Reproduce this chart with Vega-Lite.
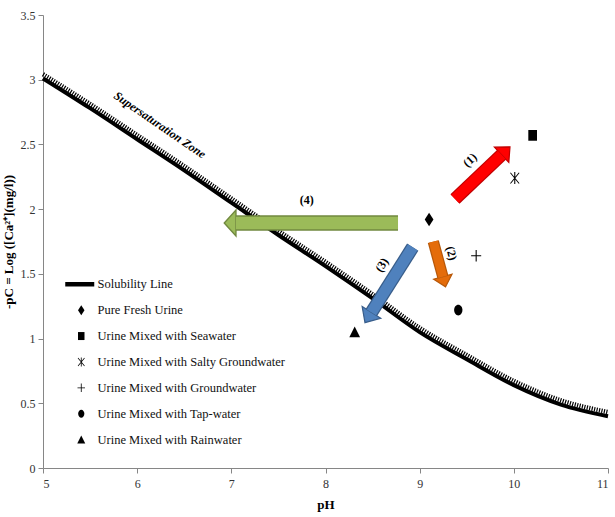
{
  "$schema": "https://vega.github.io/schema/vega-lite/v6.json",
  "width": 565,
  "height": 453,
  "autosize": {"type": "none"},
  "padding": {"left": 43, "top": 15, "right": 7, "bottom": 49},
  "background": "white",
  "config": {
    "view": {"stroke": null},
    "font": "Times New Roman, Liberation Serif, serif",
    "axis": {
      "grid": false,
      "domainColor": "#868686",
      "tickColor": "#868686",
      "tickSize": 5,
      "labelFont": "Times New Roman, Liberation Serif, serif",
      "labelFontSize": 12,
      "labelColor": "#333333",
      "titleFont": "Times New Roman, Liberation Serif, serif",
      "titleFontSize": 13,
      "titleFontWeight": "bold",
      "titleColor": "#000000"
    }
  },
  "datasets": {
    "line": [
      {"pH": 5.0, "pC": 3.01},
      {"pH": 5.5, "pC": 2.78},
      {"pH": 6.0, "pC": 2.54},
      {"pH": 6.5, "pC": 2.30},
      {"pH": 7.0, "pC": 2.05},
      {"pH": 7.5, "pC": 1.80},
      {"pH": 8.0, "pC": 1.56},
      {"pH": 8.5, "pC": 1.31},
      {"pH": 9.0, "pC": 1.05},
      {"pH": 9.5, "pC": 0.84},
      {"pH": 10.0, "pC": 0.64},
      {"pH": 10.5, "pC": 0.49},
      {"pH": 11.0, "pC": 0.40}
    ],
    "points": [
      {"series": "Pure Fresh Urine", "pH": 9.1, "pC": 1.92},
      {"series": "Urine Mixed with Seawater", "pH": 10.2, "pC": 2.57},
      {"series": "Urine Mixed with Salty Groundwater", "pH": 10.01, "pC": 2.24},
      {"series": "Urine Mixed with Groundwater", "pH": 9.6, "pC": 1.64},
      {"series": "Urine Mixed with Tap-water", "pH": 9.41, "pC": 1.22},
      {"series": "Urine Mixed with Rainwater", "pH": 8.31, "pC": 1.05}
    ],
    "arrows": [
      {"id": "1", "pH": 9.375, "pC": 2.079, "pH2": 9.870, "pC2": 2.420},
      {"id": "2", "pH": 9.145, "pC": 1.749, "pH2": 9.246, "pC2": 1.478},
      {"id": "3", "pH": 8.926, "pC": 1.706, "pH2": 8.488, "pC2": 1.202},
      {"id": "4", "pH": 8.770, "pC": 1.893, "pH2": 7.049, "pC2": 1.893}
    ],
    "labels": [
      {"text": "(1)", "pH": 9.534, "pC": 2.380},
      {"text": "(2)", "pH": 9.340, "pC": 1.659},
      {"text": "(3)", "pH": 8.597, "pC": 1.569},
      {"text": "(4)", "pH": 7.800, "pC": 2.071},
      {"text": "Supersaturation Zone", "pH": 6.242, "pC": 2.651}
    ]
  },
  "encoding": {
    "x": {
      "field": "pH",
      "type": "quantitative",
      "scale": {"domain": [5, 11], "nice": false, "zero": false},
      "axis": {"title": "pH", "values": [5, 6, 7, 8, 9, 10, 11], "format": "d", "labelPadding": 5, "titlePadding": 9}
    },
    "y": {
      "field": "pC",
      "type": "quantitative",
      "scale": {"domain": [0, 3.5], "nice": false},
      "axis": {"title": "-pC = Log  ([Ca²⁺](mg/l))", "values": [0, 0.5, 1, 1.5, 2, 2.5, 3, 3.5], "format": "~g", "labelPadding": 3, "titlePadding": 5}
    }
  },
  "layer": [
    {
      "data": {"name": "line"},
      "mark": {"type": "line", "interpolate": "monotone", "color": "#000000", "strokeWidth": 4.5, "strokeDash": [1.2, 1.3], "yOffset": -4.2}
    },
    {
      "data": {"name": "line"},
      "mark": {"type": "line", "interpolate": "monotone", "color": "#000000", "strokeWidth": 4}
    },
    {
      "data": {"name": "arrows"},
      "transform": [{"filter": "datum.id == '4'"}],
      "encoding": {"x2": {"field": "pH2"}, "y2": {"field": "pC2"}},
      "layer": [
        {"mark": {"type": "rule", "color": "#71893F", "strokeWidth": 15.4}},
        {"mark": {"type": "point", "shape": "M0,-0.9L-1,0L1,0Z", "filled": true, "fill": "#9BBB59", "stroke": "#71893F", "strokeWidth": 1.4, "size": 676, "angle": 270, "opacity": 1},
         "encoding": {"x": {"field": "pH2", "type": "quantitative"}, "y": {"field": "pC2", "type": "quantitative"}, "x2": null, "y2": null}},
        {"mark": {"type": "rule", "color": "#9BBB59", "strokeWidth": 12.6}}
      ]
    },
    {
      "data": {"name": "arrows"},
      "transform": [{"filter": "datum.id == '1'"}],
      "encoding": {"x2": {"field": "pH2"}, "y2": {"field": "pC2"}},
      "layer": [
        {"mark": {"type": "rule", "color": "#C00000", "strokeWidth": 13.2}},
        {"mark": {"type": "point", "shape": "M0,-1.1L-1,0L1,0Z", "filled": true, "fill": "#FF0000", "stroke": "#C00000", "strokeWidth": 1.2, "size": 441, "angle": 46.6, "opacity": 1},
         "encoding": {"x": {"field": "pH2", "type": "quantitative"}, "y": {"field": "pC2", "type": "quantitative"}, "x2": null, "y2": null}},
        {"mark": {"type": "rule", "color": "#FF0000", "strokeWidth": 10.8}}
      ]
    },
    {
      "data": {"name": "arrows"},
      "transform": [{"filter": "datum.id == '2'"}],
      "encoding": {"x2": {"field": "pH2"}, "y2": {"field": "pC2"}},
      "layer": [
        {"mark": {"type": "rule", "color": "#B65708", "strokeWidth": 11.4}},
        {"mark": {"type": "point", "shape": "M0,-1.1L-1,0L1,0Z", "filled": true, "fill": "#E46C0A", "stroke": "#B65708", "strokeWidth": 1.2, "size": 361, "angle": 164.8, "opacity": 1},
         "encoding": {"x": {"field": "pH2", "type": "quantitative"}, "y": {"field": "pC2", "type": "quantitative"}, "x2": null, "y2": null}},
        {"mark": {"type": "rule", "color": "#E46C0A", "strokeWidth": 9}}
      ]
    },
    {
      "data": {"name": "arrows"},
      "transform": [{"filter": "datum.id == '3'"}],
      "encoding": {"x2": {"field": "pH2"}, "y2": {"field": "pC2"}},
      "layer": [
        {"mark": {"type": "rule", "color": "#385D8A", "strokeWidth": 13.4}},
        {"mark": {"type": "point", "shape": "M0,-1.1L-1,0L1,0Z", "filled": true, "fill": "#4F81BD", "stroke": "#385D8A", "strokeWidth": 1.2, "size": 484, "angle": 212.3, "opacity": 1},
         "encoding": {"x": {"field": "pH2", "type": "quantitative"}, "y": {"field": "pC2", "type": "quantitative"}, "x2": null, "y2": null}},
        {"mark": {"type": "rule", "color": "#4F81BD", "strokeWidth": 11}}
      ]
    },
    {
      "data": {"name": "points"},
      "mark": {"type": "point", "filled": true, "color": "#000000", "strokeWidth": 0, "size": 180, "opacity": 1},
      "encoding": {
        "shape": {
          "field": "series",
          "type": "nominal",
          "scale": {
            "domain": ["Solubility Line", "Pure Fresh Urine", "Urine Mixed with Seawater", "Urine Mixed with Salty Groundwater", "Urine Mixed with Groundwater", "Urine Mixed with Tap-water", "Urine Mixed with Rainwater"],
            "range": [
              "M-3.2,-0.45H2.6V0.45H-3.2Z",
              "M0,-1L0.65,0L0,1L-0.65,0Z",
              "M-0.65,-0.8H0.65V0.8H-0.65Z",
              "M-0.705,-0.756L0.595,0.844L0.705,0.756L-0.595,-0.844ZM-0.705,0.756L-0.595,0.844L0.705,-0.756L0.595,-0.844ZM-0.08,-0.9V0.9H0.08V-0.9Z",
              "M-0.75,-0.08H-0.08V-0.85H0.08V-0.08H0.75V0.08H0.08V0.85H-0.08V0.08H-0.75Z",
              "M0.62,0A0.62,0.8,0,1,1,-0.62,0A0.62,0.8,0,1,1,0.62,0Z",
              "M0,-0.85L0.8,0.75H-0.8Z"
            ]
          },
          "legend": {
            "title": null,
            "orient": "none",
            "legendX": 32,
            "legendY": 263,
            "padding": 0,
            "symbolSize": 100,
            "symbolFillColor": "#000000",
            "symbolStrokeWidth": 0,
            "labelFont": "Times New Roman, Liberation Serif, serif",
            "labelFontSize": 12.5,
            "labelColor": "#111111",
            "labelOffset": 10,
            "labelLimit": 400,
            "rowPadding": 12.9
          }
        }
      }
    },
    {
      "data": {"name": "labels"},
      "transform": [{"filter": "datum.text == '(1)'"}],
      "mark": {"type": "text", "font": "Times New Roman, Liberation Serif, serif", "fontSize": 12, "fontWeight": "bold", "angle": -43, "align": "center", "baseline": "middle", "color": "#000000"},
      "encoding": {"text": {"field": "text"}}
    },
    {
      "data": {"name": "labels"},
      "transform": [{"filter": "datum.text == '(2)'"}],
      "mark": {"type": "text", "font": "Times New Roman, Liberation Serif, serif", "fontSize": 12, "fontWeight": "bold", "angle": 75, "align": "center", "baseline": "middle", "color": "#000000"},
      "encoding": {"text": {"field": "text"}}
    },
    {
      "data": {"name": "labels"},
      "transform": [{"filter": "datum.text == '(3)'"}],
      "mark": {"type": "text", "font": "Times New Roman, Liberation Serif, serif", "fontSize": 12, "fontWeight": "bold", "angle": -58, "align": "center", "baseline": "middle", "color": "#000000"},
      "encoding": {"text": {"field": "text"}}
    },
    {
      "data": {"name": "labels"},
      "transform": [{"filter": "datum.text == '(4)'"}],
      "mark": {"type": "text", "font": "Times New Roman, Liberation Serif, serif", "fontSize": 12, "fontWeight": "bold", "angle": 0, "align": "center", "baseline": "middle", "color": "#000000"},
      "encoding": {"text": {"field": "text"}}
    },
    {
      "data": {"name": "labels"},
      "transform": [{"filter": "datum.text == 'Supersaturation Zone'"}],
      "mark": {"type": "text", "font": "Times New Roman, Liberation Serif, serif", "fontSize": 12, "fontWeight": "bold", "fontStyle": "italic", "angle": 34.5, "align": "center", "baseline": "middle", "color": "#000000"},
      "encoding": {"text": {"field": "text"}}
    }
  ]
}
